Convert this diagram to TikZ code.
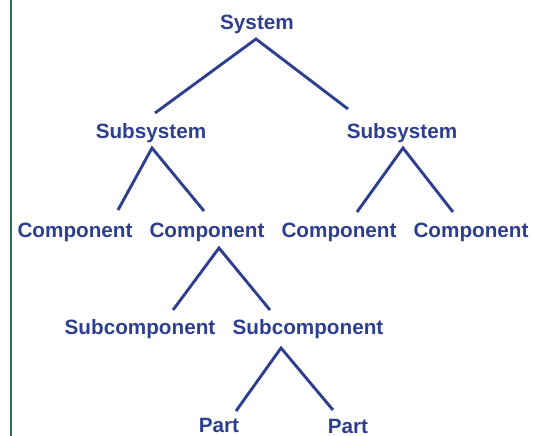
\documentclass[tikz,border=0pt]{standalone}
\usepackage{fontspec}
\setmainfont{Liberation Sans}
\definecolor{txtblue}{HTML}{2E3F8F}
\definecolor{rulegreen}{HTML}{2A6A62}
\begin{document}
\begin{tikzpicture}[x=1pt,y=-1pt,
  lbl/.style={anchor=base,inner sep=0pt,text=txtblue,font=\fontsize{20.7}{24}\selectfont\bfseries},
  branch/.style={draw=txtblue,line width=2.9pt,line join=miter}]
\useasboundingbox (0,0) rectangle (533,436);
\fill[white] (0,0) rectangle (533,436);
\coordinate (rt) at (11,0);
\coordinate (rb) at (11,436);
\draw[rulegreen,line width=2.4pt] (rt) -- (rb);
% labels
\node[lbl] (sys) at (257,30) {System};
\node[lbl] (ss1) at (151,139) {Subsystem};
\node[lbl] (ss2) at (402,139) {Subsystem};
\node[lbl] (c1) at (75,237) {Component};
\node[lbl] (c2) at (207,237) {Component};
\node[lbl] (c3) at (339,237) {Component};
\node[lbl] (c4) at (471,237) {Component};
\node[lbl] (sc1) at (140,334) {Subcomponent};
\node[lbl] (sc2) at (308,334) {Subcomponent};
\node[lbl] (p1) at (219,432) {Part};
\node[lbl] (p2) at (348,433.5) {Part};
% connector points
\coordinate (a0) at (256,39);
\coordinate (a0l) at (155,113);
\coordinate (a0r) at (348,109);
\coordinate (a1) at (152,148);
\coordinate (a1l) at (118,210);
\coordinate (a1r) at (204,211);
\coordinate (a2) at (403,148);
\coordinate (a2l) at (357,212);
\coordinate (a2r) at (453,212);
\coordinate (a3) at (219,248);
\coordinate (a3l) at (173,310);
\coordinate (a3r) at (270,310);
\coordinate (a4) at (281,348);
\coordinate (a4l) at (236,411);
\coordinate (a4r) at (333,410);
\draw[branch] (a0l) -- (a0) -- (a0r);
\draw[branch] (a1l) -- (a1) -- (a1r);
\draw[branch] (a2l) -- (a2) -- (a2r);
\draw[branch] (a3l) -- (a3) -- (a3r);
\draw[branch] (a4l) -- (a4) -- (a4r);
\end{tikzpicture}
\end{document}
